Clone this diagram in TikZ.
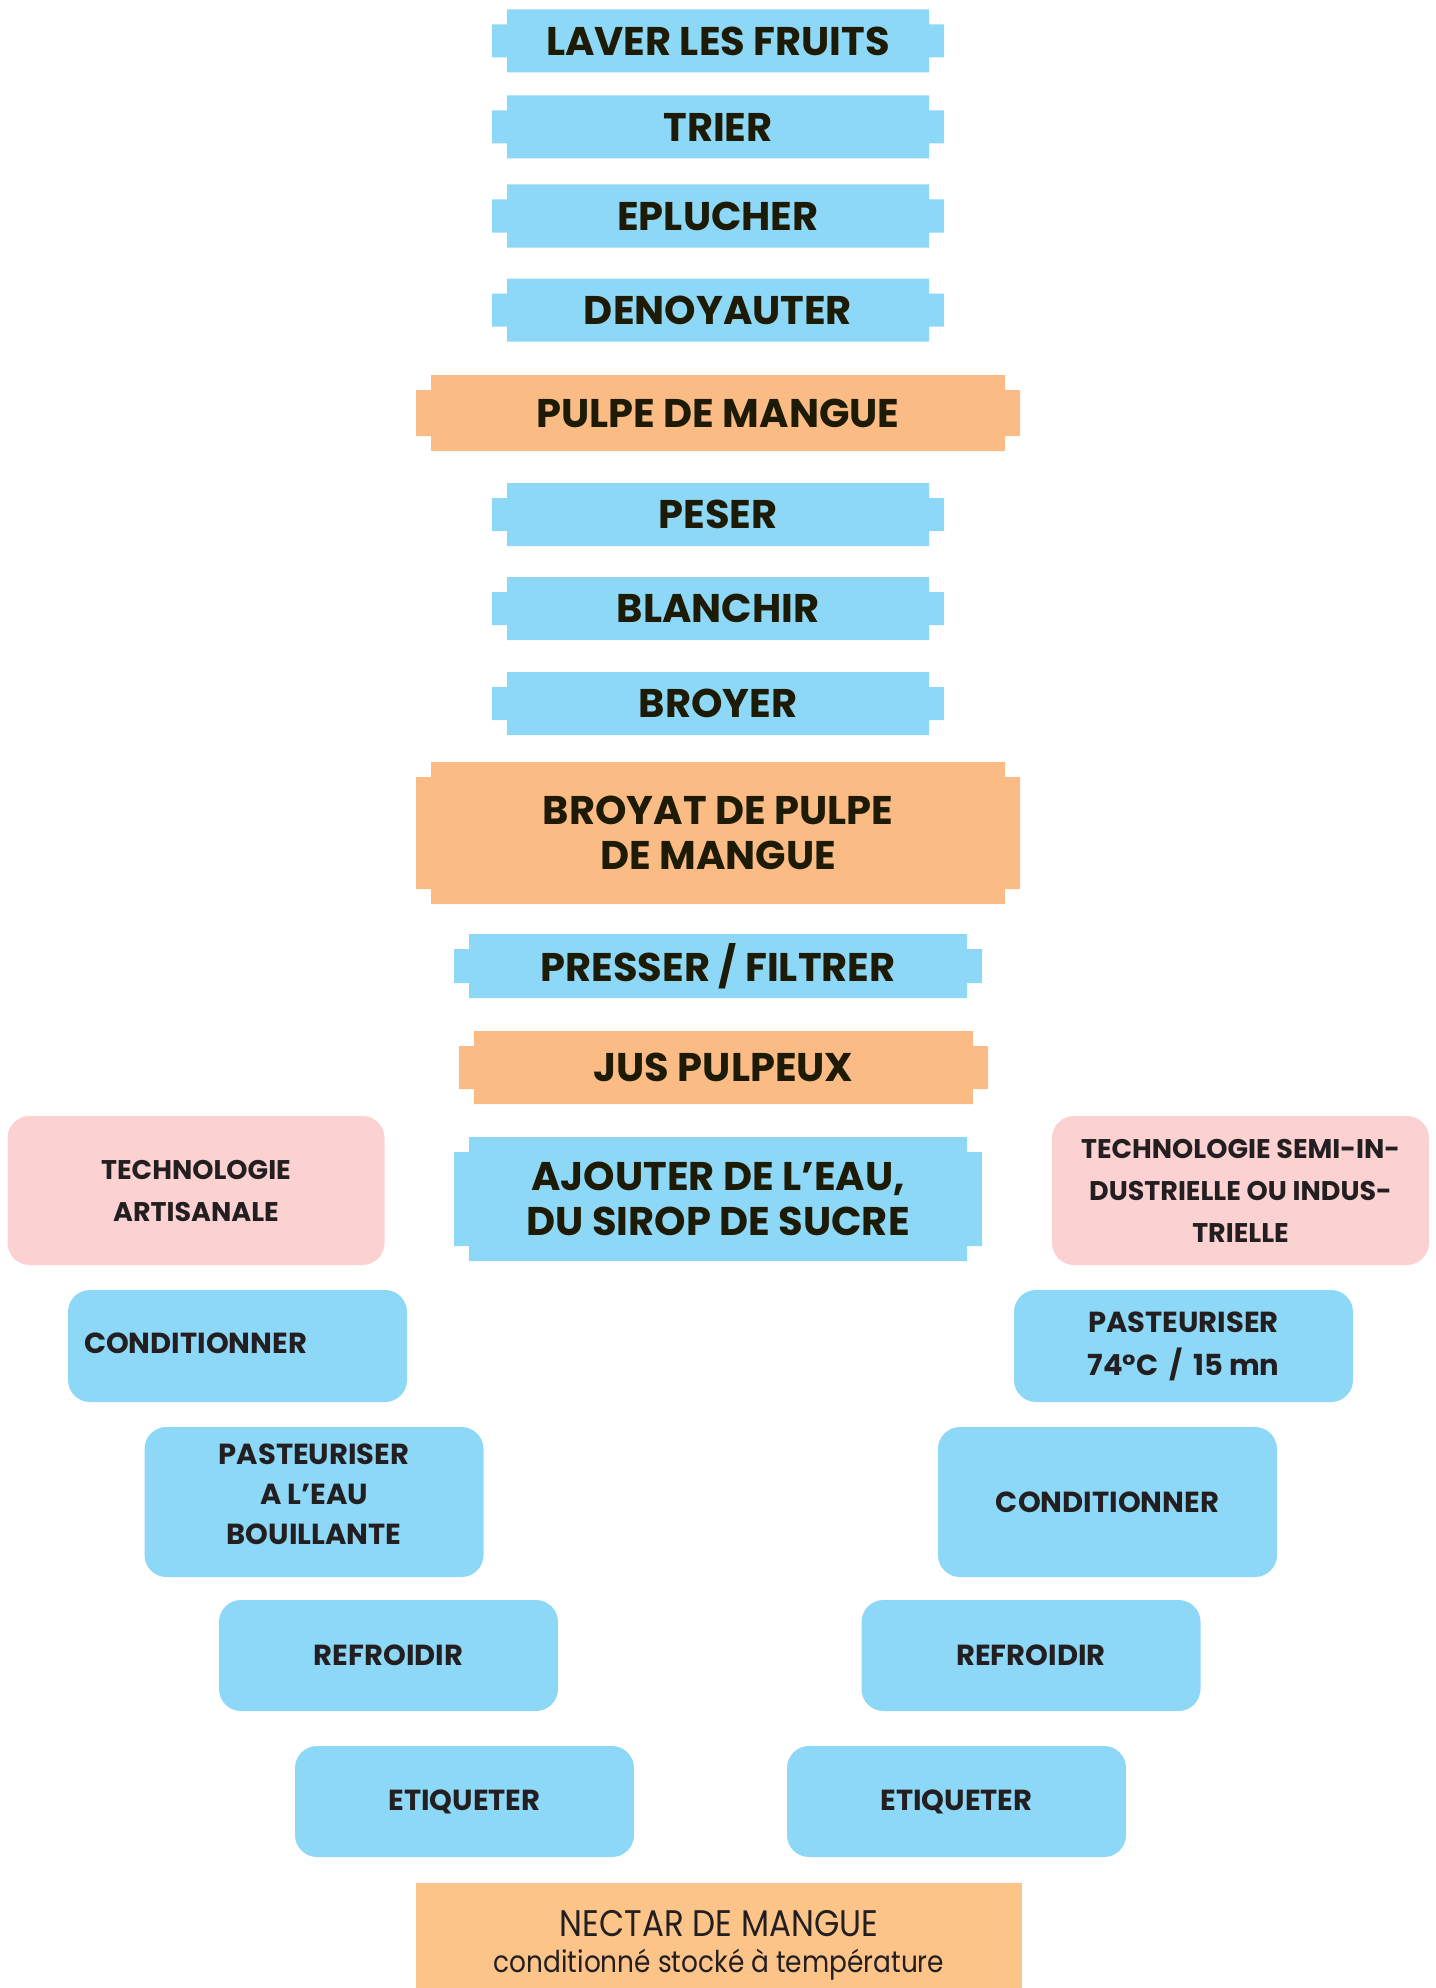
\documentclass[tikz,border=0pt]{standalone}
\usepackage{fontspec}
\setmainfont{Poppins}
\newfontfamily\futura{Poppins}[FakeStretch=0.88]
\usepackage{tikz}
\usetikzlibrary{positioning}
\definecolor{mgblue}{RGB}{141,215,247}
\definecolor{mgorange}{RGB}{251,187,133}
\definecolor{mgpink}{RGB}{251,210,209}
\definecolor{mgnectar}{RGB}{252,196,137}
\definecolor{mgtext}{RGB}{29,26,5}
\definecolor{mgdark}{RGB}{35,31,32}
\tikzset{bandeau/.style={rectangle, inner sep=0pt, align=center, text=mgtext,
    font=\bfseries\fontsize{40}{45}\selectfont,
    path picture={\fill[#1]
      ([xshift=15pt]path picture bounding box.south west) rectangle ([xshift=-15pt]path picture bounding box.north east)
      ([yshift=15pt]path picture bounding box.south west) rectangle ([yshift=-15pt]path picture bounding box.north east);}}}
\tikzstyle{operation} = [bandeau=mgblue, minimum width=452pt, minimum height=63pt]
\tikzstyle{produit} = [bandeau=mgorange, minimum width=604pt]
\tikzstyle{etape} = [rectangle, rounded corners=22pt, fill=mgblue, minimum width=339pt, text=mgdark, align=center, font=\bfseries\fontsize{29}{40}\selectfont]
\tikzstyle{techno} = [etape, fill=mgpink, minimum width=377pt, minimum height=149pt, font=\bfseries\fontsize{27}{42}\selectfont]

\begin{document}
\begin{tikzpicture}[x=1pt, y=-1pt]
    \useasboundingbox (0,0) rectangle (1435,1988);

    % Tronc commun
    \node[operation] (laver) at (718, 41) {LAVER LES FRUITS};
    \node[operation] (trier) at (718, 127) {TRIER};
    \node[operation] (eplucher) at (718, 216) {EPLUCHER};
    \node[operation] (denoyauter) at (718, 310) {DENOYAUTER};
    \node[produit, minimum height=76pt] (pulpe) at (718, 413) {PULPE DE MANGUE};
    \node[operation] (peser) at (718, 514.5) {PESER};
    \node[operation] (blanchir) at (718, 608.5) {BLANCHIR};
    \node[operation] (broyer) at (718, 703.5) {BROYER};
    \node[produit, minimum height=142pt] (broyat) at (718, 833) {BROYAT DE PULPE\\DE MANGUE};
    \node[operation, minimum width=528pt, minimum height=64pt] (presser) at (718, 966) {PRESSER / FILTRER};
    \node[bandeau=mgorange, minimum width=529pt, minimum height=73pt] (jus) at (723.5, 1067.5) {JUS PULPEUX};
    \node[operation, minimum width=528pt, minimum height=124pt] (ajouter) at (718, 1199) {AJOUTER DE L’EAU,\\DU SIROP DE SUCRE};

    % Technologie artisanale
    \node[techno] (artisanale) at (196, 1190.5) {TECHNOLOGIE\\ARTISANALE};
    \node[etape, minimum height=112pt, align=left, text width=307pt, inner xsep=16pt, text depth=6pt] (condA) at (237.5, 1346) {CONDITIONNER};
    \node[etape, minimum height=150pt, text depth=16pt] (pastA) at (314, 1502) {PASTEURISER\\A L’EAU\\BOUILLANTE};
    \node[etape, minimum height=111pt] (refrA) at (388.5, 1655.5) {REFROIDIR};
    \node[etape, minimum height=111pt] (etiqA) at (464.5, 1801.5) {ETIQUETER};

    % Technologie semi-industrielle ou industrielle
    \node[techno] (industrielle) at (1240.5, 1190.5) {TECHNOLOGIE SEMI-IN-\\DUSTRIELLE OU INDUS-\\TRIELLE};
    \node[etape, minimum height=112pt, font=\bfseries\fontsize{29}{43}\selectfont] (pastB) at (1183.5, 1346) {PASTEURISER\\74°C \,/\, 15 mn};
    \node[etape, minimum height=150pt] (condB) at (1107.5, 1502) {CONDITIONNER};
    \node[etape, minimum height=111pt] (refrB) at (1031, 1655.5) {REFROIDIR};
    \node[etape, minimum height=111pt] (etiqB) at (956.5, 1801.5) {ETIQUETER};

    % Produit fini
    \node[rectangle, fill=mgnectar, minimum width=606pt, minimum height=124pt, text=mgdark, align=center,
        font=\futura\fontsize{37}{36}\selectfont] (nectar) at (719, 1945)
        {NECTAR DE MANGUE\\{\fontsize{30}{38}\selectfont conditionné stocké à température}};
\end{tikzpicture}
\end{document}
